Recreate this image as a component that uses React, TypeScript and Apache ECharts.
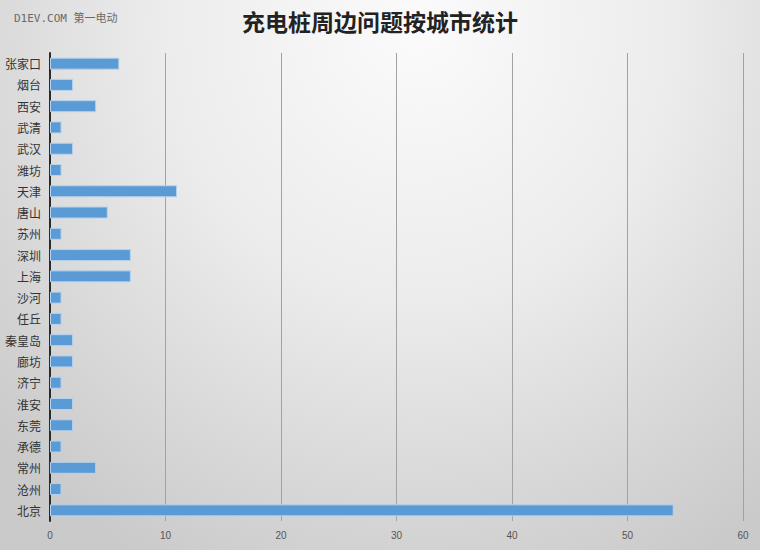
import React, { useEffect, useRef } from "react";
import * as echarts from "echarts";

const categories = ["北京", "沧州", "常州", "承德", "东莞", "淮安", "济宁", "廊坊", "秦皇岛", "任丘", "沙河", "上海", "深圳", "苏州", "唐山", "天津", "潍坊", "武汉", "武清", "西安", "烟台", "张家口"];
const values = [54, 1, 4, 1, 2, 2, 1, 2, 2, 1, 1, 7, 7, 1, 5, 11, 1, 2, 1, 4, 2, 6];
const xTicks = { min: 0, max: 60, interval: 10 };
const titleText = "充电桩周边问题按城市统计";
const watermark = "D1EV.COM 第一电动";

export default function App() {
  const ref = useRef<HTMLDivElement>(null);
  useEffect(() => {
    document.body.style.margin = "0";
    if (!ref.current) return;
    const chart = echarts.init(ref.current, null, { renderer: "svg" });
    chart.setOption({
      animation: false,
      backgroundColor: "transparent",
      title: {
        text: titleText,
        left: 375,
        top: 4,
        textAlign: "center",
        textStyle: { fontFamily: "Noto Sans CJK SC", fontSize: 23, fontWeight: "bold", color: "#222" },
      },
      graphic: [
        {
          type: "text",
          left: 14,
          top: 13,
          style: { text: watermark, fontFamily: "DejaVu Sans Mono, Noto Sans CJK SC", fontSize: 11, fill: "#6a6a6a" },
        },
      ],
      grid: { left: 50, right: 17, top: 53, bottom: 29, containLabel: false },
      xAxis: {
        type: "value",
        min: xTicks.min,
        max: xTicks.max,
        interval: xTicks.interval,
        axisLine: { show: false },
        axisTick: { show: false },
        axisLabel: { color: "#555", fontSize: 10, margin: 9, fontFamily: "Liberation Sans" },
        splitLine: { show: true, lineStyle: { color: "#a2a2a2", width: 1 } },
      },
      yAxis: {
        type: "category",
        data: categories,
        axisLine: { show: true, lineStyle: { color: "#2a2a2a", width: 2 } },
        axisTick: { show: false },
        axisLabel: { color: "#333", fontSize: 12, margin: 9, fontFamily: "Noto Sans CJK SC" },
        splitLine: { show: false },
      },
      series: [
        {
          type: "bar",
          data: values,
          barWidth: 12,
          itemStyle: { color: "#5b9bd5", borderColor: "#b5d2ee", borderWidth: 1 },
        },
      ],
    });
    return () => chart.dispose();
  }, []);
  return (
    <div
      ref={ref}
      style={{
        width: 760,
        height: 550,
        background: "radial-gradient(ellipse 75% 110% at 55% 5%, #fbfbfb 0%, #ececec 45%, #d6d6d6 80%, #cacaca 100%)",
      }}
    />
  );
}
